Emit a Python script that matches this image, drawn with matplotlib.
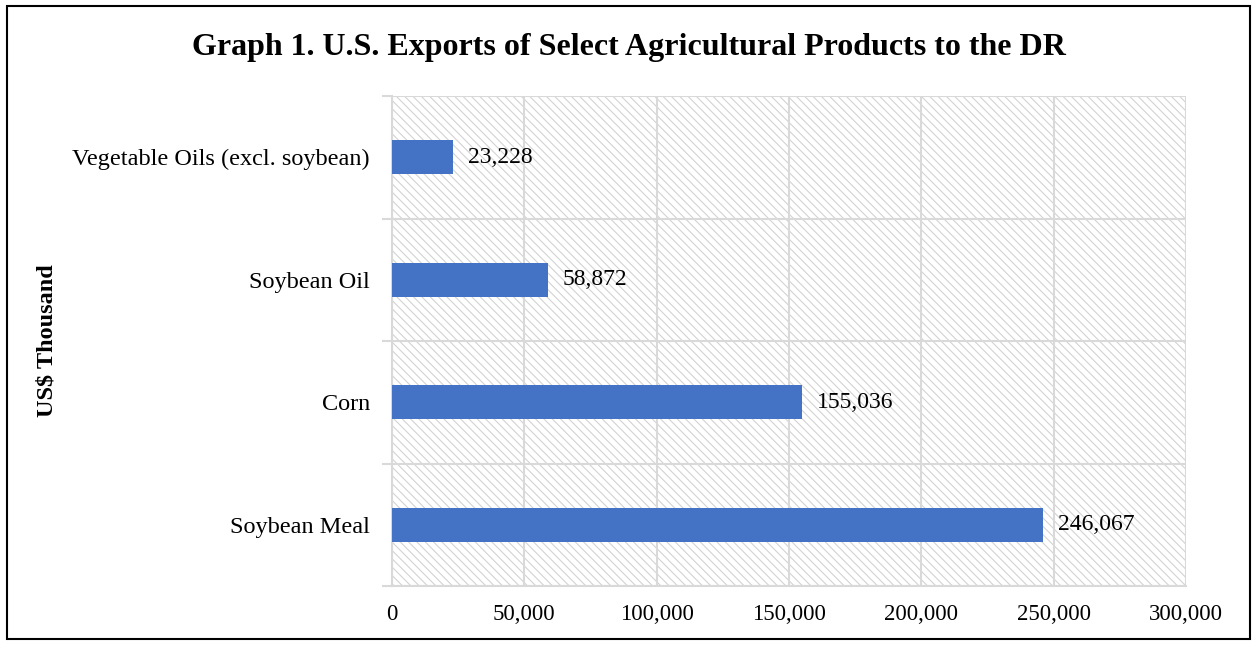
import matplotlib.pyplot as plt
from matplotlib.patches import Rectangle
from matplotlib.ticker import FuncFormatter, FixedLocator

plt.rcParams['font.family'] = ['Liberation Serif', 'DejaVu Serif']
plt.rcParams['hatch.color'] = '#d3d3d3'
plt.rcParams['hatch.linewidth'] = 0.8

# data
products = ['Soybean Meal', 'Corn', 'Soybean Oil', 'Vegetable Oils (excl. soybean)']
values = [246067, 155036, 58872, 23228]
xticks = [0, 50000, 100000, 150000, 200000, 250000, 300000]

grid_col = '#d9d9d9'

fig = plt.figure(figsize=(12.57, 6.45), dpi=100)
ax = fig.add_axes([392 / 1257, 1 - 586 / 645, (1186 - 392) / 1257, (586 - 96) / 645])

# hatched background
ax.add_patch(Rectangle((0, 0), 1, 1, transform=ax.transAxes, facecolor='white',
                       edgecolor='#d3d3d3', hatch='\\\\\\\\', linewidth=0, zorder=0))

pos = list(range(len(products)))
ax.barh(pos, values, height=0.28, color='#4472c4', zorder=3)
for p, v in zip(pos, values):
    ax.text(v + 5500, p, f'{v:,}', va='center', ha='left', fontsize=17, zorder=4)

ax.set_xlim(0, 300000)
ax.set_ylim(-0.5, len(products) - 0.5)
ax.set_xticks(xticks)
ax.xaxis.set_major_formatter(FuncFormatter(lambda x, _: f'{int(x):,}'))
ax.set_yticks(pos)
ax.set_yticklabels(products)
ax.yaxis.set_minor_locator(FixedLocator([i - 0.5 for i in range(len(products) + 1)]))

ax.tick_params(axis='x', which='major', length=0, labelsize=16.5, pad=13)
ax.tick_params(axis='y', which='major', length=0, labelsize=17.5, pad=16)
ax.tick_params(axis='y', which='minor', length=7, width=1.5, color=grid_col)

ax.grid(axis='x', color=grid_col, linewidth=1.5, zorder=1)
ax.grid(axis='y', which='minor', color=grid_col, linewidth=1.5, zorder=1)
ax.set_axisbelow(True)
for s in ['top', 'right']:
    ax.spines[s].set_visible(False)
for s in ['left', 'bottom']:
    ax.spines[s].set_color(grid_col)
    ax.spines[s].set_linewidth(1.5)

ax.set_ylabel('US$ Thousand', fontsize=17.5, fontweight='bold')
ax.yaxis.set_label_coords(-(392 - 57) / (1186 - 392), 0.5)

fig.text(0.5, 1 - 47 / 645, 'Graph 1. U.S. Exports of Select Agricultural Products to the DR',
         ha='center', va='center', fontsize=23, fontweight='bold')

# outer frame
fig.patches.append(Rectangle((7 / 1257, 6 / 645), 1243 / 1257, 633 / 645,
                             transform=fig.transFigure, fill=False,
                             edgecolor='black', linewidth=1.5))

fig.savefig('out.png', dpi=100)
